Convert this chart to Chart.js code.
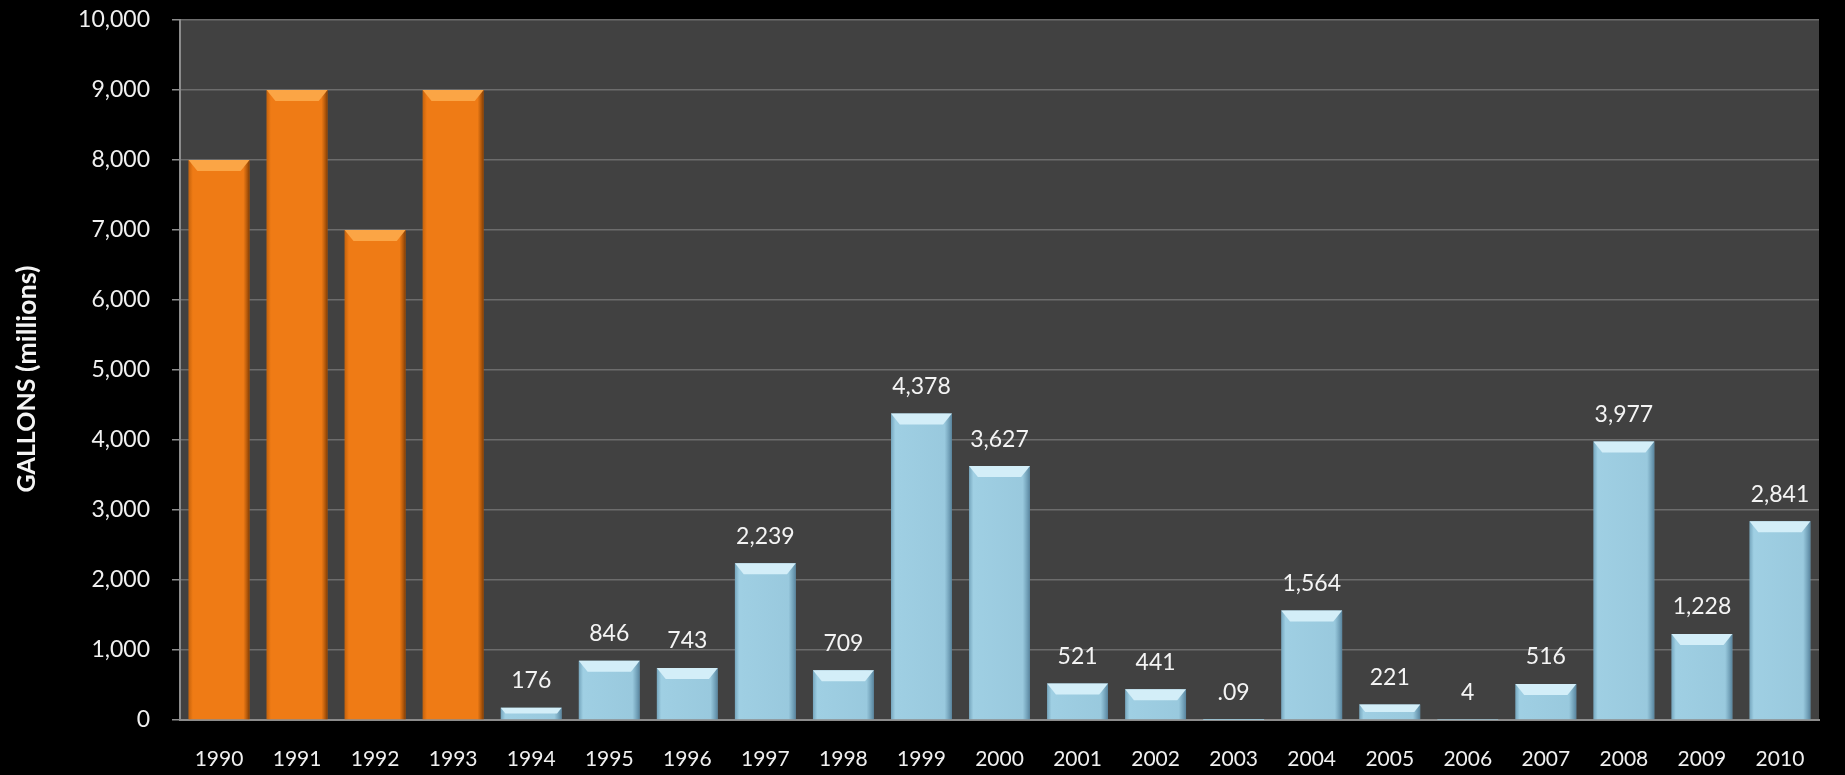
<!DOCTYPE html>
<html>
<head>
<meta charset="utf-8">
<script src="https://cdn.jsdelivr.net/npm/chart.js@4.4.1/dist/chart.umd.min.js"></script>
<style>
  html, body { margin: 0; padding: 0; background: #000; overflow: hidden; }
  #wrap { width: 1845px; height: 775px; position: relative; }
</style>
</head>
<body>
<div id="wrap"><canvas id="g_gallons"></canvas></div>
<script>
// datos
var years = ['1990','1991','1992','1993','1994','1995','1996','1997','1998','1999','2000',
             '2001','2002','2003','2004','2005','2006','2007','2008','2009','2010'];
var gallons = [8000, 9000, 7000, 9000, 176, 846, 743, 2239, 709, 4378, 3627,
               521, 441, 0.09, 1564, 221, 4, 516, 3977, 1228, 2841];
var valueLabels = ['', '', '', '', '176', '846', '743', '2,239', '709', '4,378', '3,627',
                   '521', '441', '.09', '1,564', '221', '4', '516', '3,977', '1,228', '2,841'];
var yTicks = [0, 1000, 2000, 3000, 4000, 5000, 6000, 7000, 8000, 9000, 10000];

var FONT = 'Lato, "Open Sans", sans-serif';

function isOld(i){ return parseInt(years[i]) <= 1993; }

// fondo gris del area
var plotBg = {
    id: 'plotBg',
    beforeDraw: function(chart){
        var a = chart.chartArea, c = chart.ctx;
        c.save();
        c.fillStyle = '#414141';
        c.fillRect(a.left, a.top, a.right - a.left, a.bottom - a.top);
        c.restore();
    }
};

// sombreado lateral, bisel arriba y etiquetas
var bevel = {
    id: 'bevel',
    afterDatasetsDraw: function(chart){
        var c = chart.ctx;
        var meta = chart.getDatasetMeta(0);
        c.save();
        meta.data.forEach(function(bar, i){
            var h = bar.base - bar.y;
            if (h < 1) return;
            var x0 = bar.x - bar.width/2, x1 = bar.x + bar.width/2;
            var g = c.createLinearGradient(x0, 0, x1, 0);
            if (isOld(i)){
                g.addColorStop(0, 'rgba(150,70,0,0.45)');
                g.addColorStop(0.07, 'rgba(150,70,0,0)');
                g.addColorStop(0.9, 'rgba(120,55,0,0)');
                g.addColorStop(1, 'rgba(90,40,0,0.75)');
            } else {
                g.addColorStop(0, 'rgba(40,90,120,0.35)');
                g.addColorStop(0.07, 'rgba(40,90,120,0)');
                g.addColorStop(0.88, 'rgba(40,90,120,0.05)');
                g.addColorStop(1, 'rgba(30,70,100,0.55)');
            }
            c.fillStyle = g;
            c.fillRect(x0, bar.y, x1 - x0, h);

            var bh = Math.min(11, h/2);
            var inset = Math.min(9, bh*0.8);
            c.beginPath();
            c.moveTo(x0, bar.y);
            c.lineTo(x1, bar.y);
            c.lineTo(x1 - inset, bar.y + bh);
            c.lineTo(x0 + inset, bar.y + bh);
            c.closePath();
            c.fillStyle = isOld(i) ? '#fba545' : '#d3eef8';
            c.fill();
        });
        c.fillStyle = '#f4f4f4';
        c.font = '23px ' + FONT;
        c.textAlign = 'center';
        c.textBaseline = 'middle';
        meta.data.forEach(function(bar, i){
            if (!valueLabels[i]) return;
            c.fillText(valueLabels[i], bar.x, bar.y - 27);
        });
        c.restore();
    }
};

// titulo del eje y
var yTitle = {
    id: 'yTitle',
    afterDraw: function(chart){
        var c = chart.ctx;
        var t1 = 'GALLONS', t2 = ' (millions)';
        var f1 = 'bold 25px ' + FONT, f2 = 'bold 27px ' + FONT;
        c.save();
        c.fillStyle = '#f4f4f4';
        c.font = f1;
        var w1 = c.measureText(t1).width;
        c.font = f2;
        var w2 = c.measureText(t2).width;
        c.translate(27, 379);
        c.rotate(-Math.PI/2);
        c.textBaseline = 'middle';
        c.textAlign = 'left';
        var sx = -(w1 + w2)/2;
        c.font = f1;
        c.fillText(t1, sx, 0);
        c.font = f2;
        c.fillText(t2, sx + w1, 0);
        c.restore();
    }
};

var ctx = document.getElementById('g_gallons');
var chart = new Chart(ctx, {
    type: 'bar',
    data: {
        labels: years,
        datasets: [{
            label: 'Gallons',
            data: gallons,
            backgroundColor: years.map(function(y, i){ return isOld(i) ? '#ef7b15' : '#9fcfe3'; }),
            borderWidth: 0,
            barPercentage: 0.78,
            categoryPercentage: 1
        }]
    },
    options: {
        responsive: true,
        maintainAspectRatio: false,
        animation: false,
        layout: { padding: { top: 20, right: 26, left: 0, bottom: 0 } },
        plugins: {
            legend: { display: false },
            tooltip: { enabled: false }
        },
        scales: {
            x: {
                afterFit: function(s){ s.height = 55; s.paddingLeft = 0; s.paddingRight = 0; },
                grid: { display: false, drawTicks: false },
                border: { display: true, color: '#8c8c8c', width: 2 },
                ticks: { color: '#f0f0f0', font: { family: FONT, size: 21 }, padding: 27, maxRotation: 0, autoSkip: false }
            },
            y: {
                min: 0,
                max: 10000,
                afterFit: function(s){ s.width = 180; s.paddingTop = 0; s.paddingBottom = 0; },
                afterBuildTicks: function(s){ s.ticks = yTicks.map(function(v){ return { value: v }; }); },
                grid: { color: '#6c6c6c', lineWidth: 1.5, tickLength: 8, tickColor: '#8c8c8c' },
                border: { display: true, color: '#8c8c8c', width: 2 },
                ticks: {
                    color: '#f0f0f0',
                    font: { family: FONT, size: 23 },
                    padding: 22,
                    callback: function(v){ return Number(v).toLocaleString('en-US'); }
                }
            }
        }
    },
    plugins: [plotBg, bevel, yTitle]
});
</script>
</body>
</html>
